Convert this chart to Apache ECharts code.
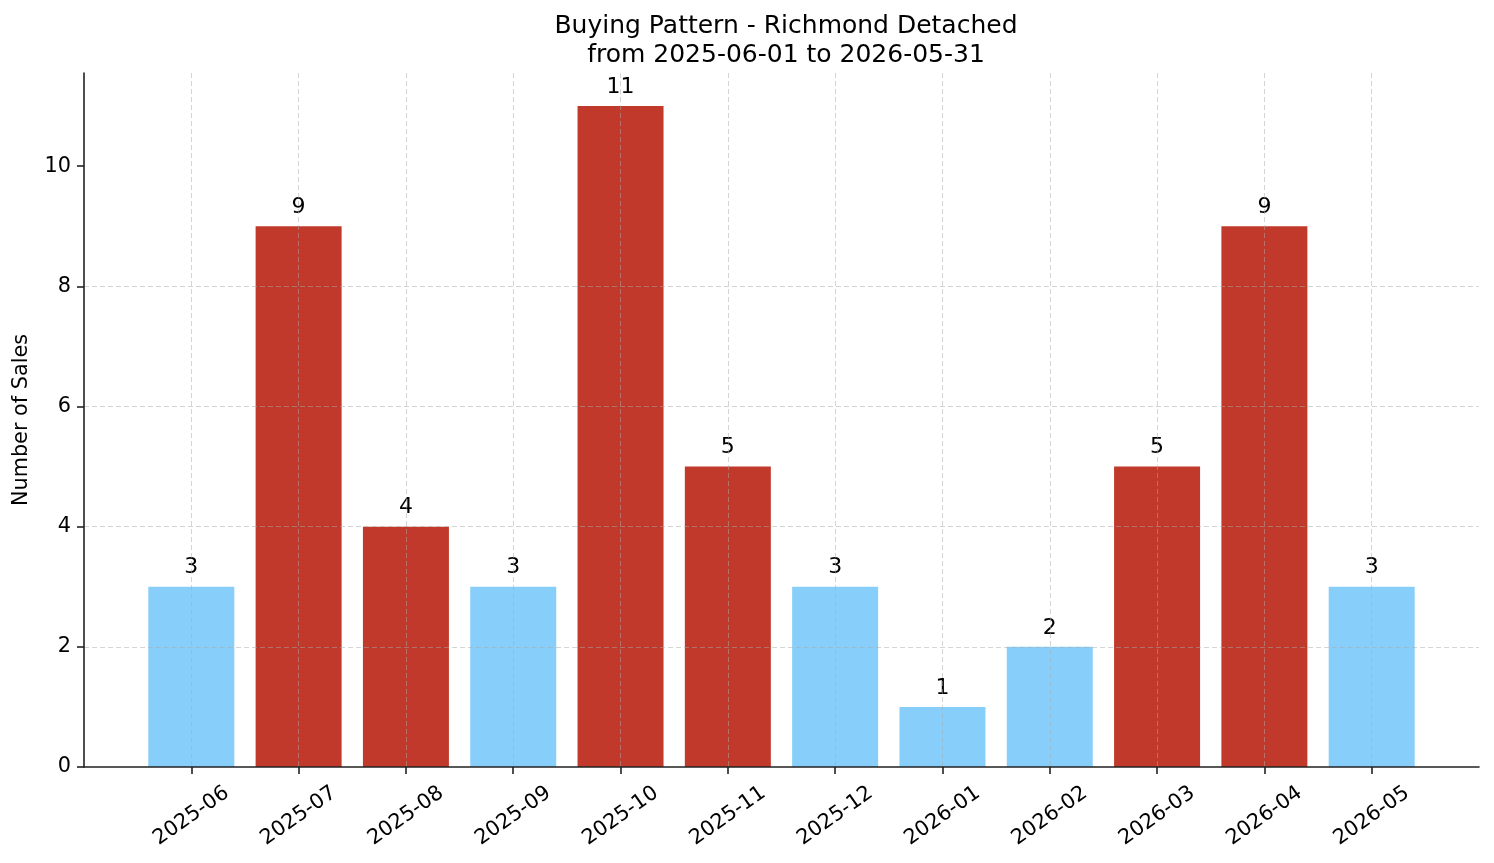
<!DOCTYPE html>
<html>
<head>
<meta charset="utf-8">
<title>Buying Pattern - Richmond Detached</title>
<script src="https://cdn.jsdelivr.net/npm/echarts@6/dist/echarts.min.js"></script>
<style>
  html, body { margin: 0; padding: 0; background: #fff; }
  #chart { width: 1494px; height: 863px; }
</style>
</head>
<body>
<div id="chart"></div>
<script>
// monthly sales counts
var months = ['2025-06', '2025-07', '2025-08', '2025-09', '2025-10', '2025-11',
              '2025-12', '2026-01', '2026-02', '2026-03', '2026-04', '2026-05'];
var sales = [3, 9, 4, 3, 11, 5, 3, 1, 2, 5, 9, 3];
// true = red (busy month), false = light blue
var busy = [false, true, true, false, true, true, false, false, false, true, true, false];
var yTicks = [0, 2, 4, 6, 8, 10];

var RED = '#c0392b', BLUE = '#87cefa';
var FONT = 'DejaVu Sans';
var gridColor = 'rgba(170,170,170,0.5)';

// blank slot at each end gives the matplotlib-style margin around the bars
var cats = [''].concat(months, ['']);
var barData = ['-'];
for (var i = 0; i < sales.length; i++) {
	barData.push({value: sales[i], itemStyle: {color: busy[i] ? RED : BLUE}});
}
barData.push('-');

function notBlank(idx, val) { return val !== ''; }

var option = {
	animation: false,
	title: {
		text: 'Buying Pattern - Richmond Detached\nfrom 2025-06-01 to 2026-05-31',
		left: 781, textAlign: 'center', top: 7,
		textStyle: {fontFamily: FONT, fontSize: 25, fontWeight: 'normal', color: '#000', lineHeight: 29}
	},
	grid: {left: 84, right: 15, top: 73, bottom: 96, containLabel: false, outerBoundsMode: 'none'},
	xAxis: {
		type: 'category',
		data: cats,
		boundaryGap: false,
		z: 3,
		axisLine: {lineStyle: {color: '#222', width: 1.6}},
		axisTick: {interval: notBlank, length: 7, lineStyle: {color: '#222', width: 1.6}},
		axisLabel: {
			interval: notBlank, rotate: 35, align: 'center', verticalAlign: 'middle', margin: 49,
			fontFamily: FONT, fontSize: 20.8, color: '#000'
		},
		splitLine: {show: true, interval: notBlank, lineStyle: {color: gridColor, width: 1, type: [5, 3]}}
	},
	yAxis: {
		type: 'value',
		min: 0, max: 11.55,
		z: 3,
		name: 'Number of Sales',
		nameLocation: 'middle',
		nameGap: 52,
		nameTextStyle: {fontFamily: FONT, fontSize: 20.8, color: '#000'},
		axisLine: {show: true, lineStyle: {color: '#222', width: 1.6}},
		axisTick: {show: true, length: 7, customValues: yTicks, lineStyle: {color: '#222', width: 1.6}},
		axisLabel: {customValues: yTicks, margin: 13, fontFamily: FONT, fontSize: 20.8, color: '#000'},
		splitLine: {show: true, showMinLine: false, showMaxLine: false,
			lineStyle: {color: gridColor, width: 1, type: [5, 3]}}
	},
	series: [{
		type: 'bar',
		data: barData,
		barWidth: 86,
		label: {
			show: true, position: 'top', distance: 8,
			fontFamily: FONT, fontSize: 22, color: '#000'
		}
	}]
};

var myChart = echarts.init(document.getElementById('chart'));
myChart.setOption(option);
</script>
</body>
</html>
